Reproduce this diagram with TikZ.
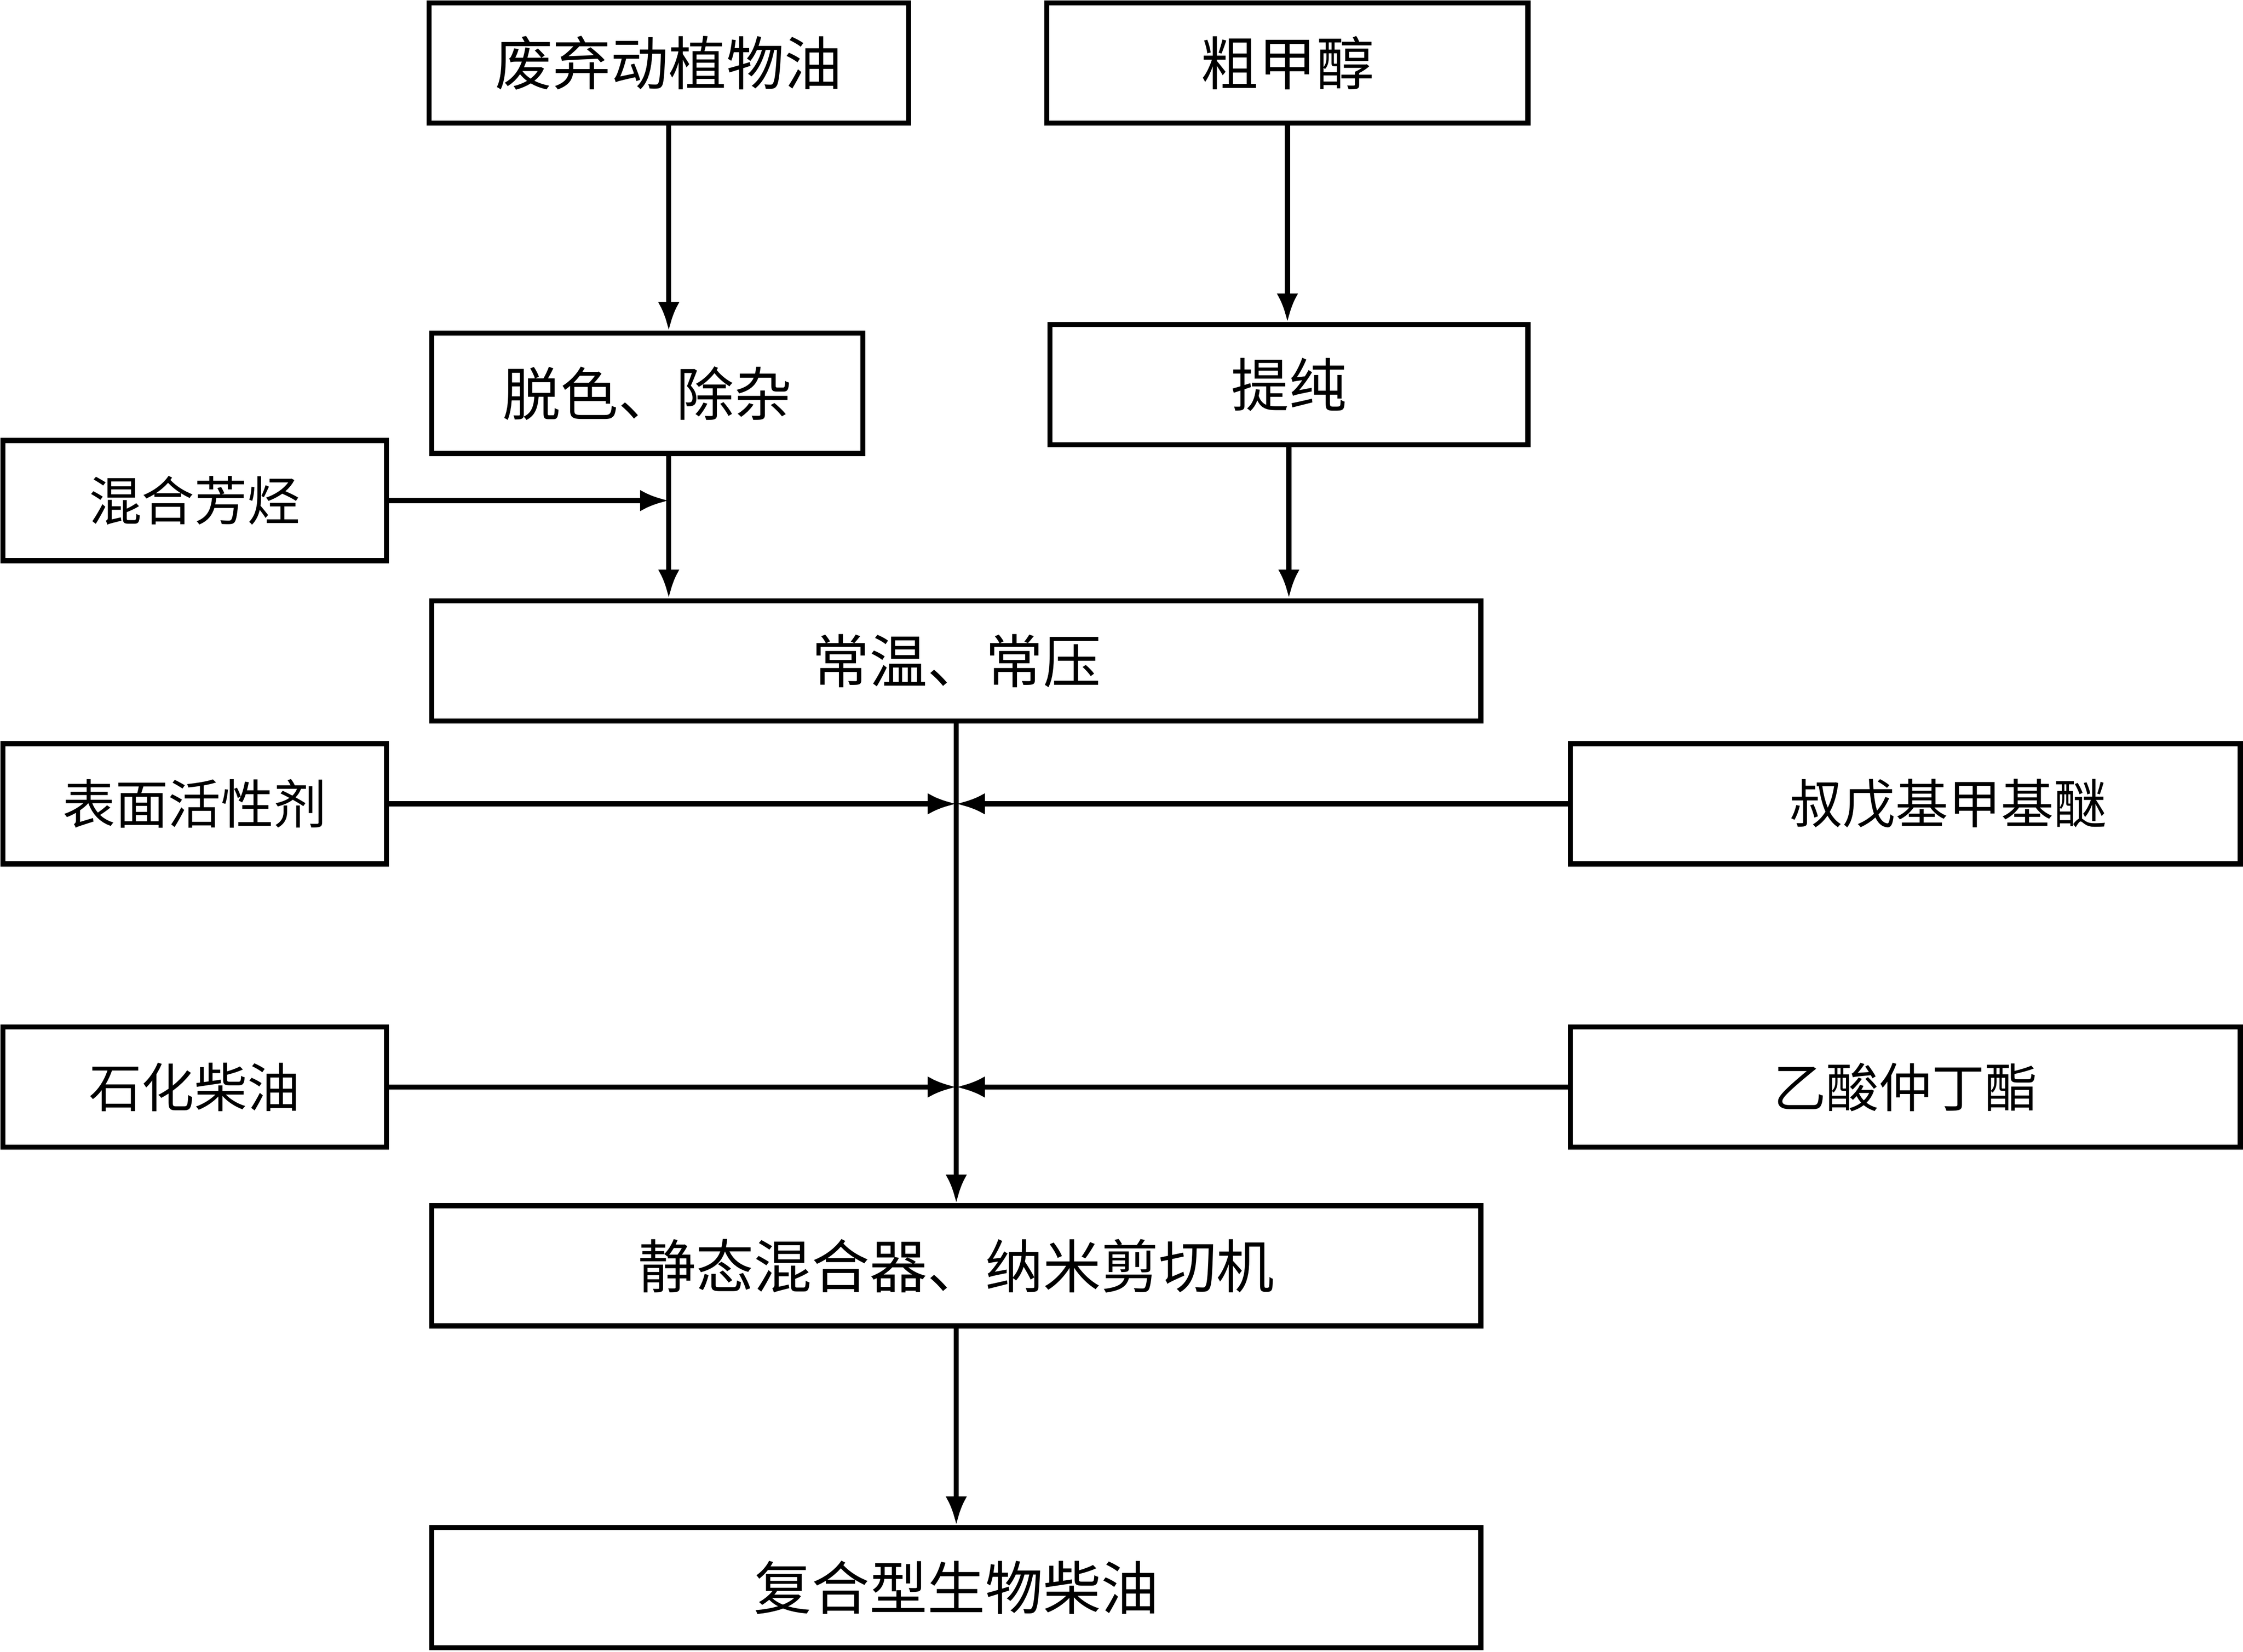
\documentclass[tikz,border=0pt]{standalone}
\usepackage{fontspec}
\newfontfamily\cjk{Noto Sans CJK SC}
\usetikzlibrary{arrows.meta}
\begin{document}
\begin{tikzpicture}[x=0.01cm,y=-0.01cm,
    box/.style={draw, line width=1pt, minimum height=0.84cm, inner sep=0pt,
        font=\cjk\fontsize{11.5}{12}\selectfont},
    side/.style={box, font=\cjk\fontsize{10.5}{12}\selectfont},
    arr/.style={line width=1pt, -{Latex[length=0.2cm,width=0.15cm]}}]
    \useasboundingbox (0,0) rectangle (1568,1155);

    \node[box, minimum width=3.35cm] (oil) at (467.5,44) {废弃动植物油};
    \node[box, minimum width=3.36cm] (cjc) at (900,44) {粗甲醇};
    \node[box, minimum width=3.01cm] (tuo) at (452.5,275) {脱色、除杂};
    \node[box, minimum width=3.34cm] (tic) at (901,269) {提纯};
    \node[side, minimum width=2.68cm] (hh) at (136,350) {混合芳烃};
    \node[box, minimum width=7.33cm] (cw) at (668.5,462) {常温、常压};
    \node[side, minimum width=2.68cm] (bm) at (136,562) {表面活性剂};
    \node[side, minimum width=4.68cm] (sw) at (1332,562) {\hspace{0.6cm}叔戊基甲基醚};
    \node[side, minimum width=2.68cm] (sh) at (136,760) {石化柴油};
    \node[side, minimum width=4.68cm] (ys) at (1332,760) {乙酸仲丁酯};
    \node[box, minimum width=7.33cm] (jt) at (668.5,885) {静态混合器、纳米剪切机};
    \node[box, minimum width=7.33cm] (fh) at (668.5,1110) {复合型生物柴油};

    % upper branches
    \draw[arr] (oil.south) -- (oil.south |- tuo.north);
    \draw[arr] (cjc.south) -- (cjc.south |- tic.north);
    \draw[arr] (oil.south |- tuo.south) -- (oil.south |- cw.north);
    \draw[arr] (hh.east) -- (hh.east -| oil.south);
    \draw[arr] (tic.south) -- (tic.south |- cw.north);

    % main line
    \draw[arr] (cw.south) -- (jt.north);
    \draw[arr] (bm.east) -- (bm.east -| cw.south);
    \draw[arr] (sw.west) -- (sw.west -| cw.south);
    \draw[arr] (sh.east) -- (sh.east -| cw.south);
    \draw[arr] (ys.west) -- (ys.west -| cw.south);
    \draw[arr] (jt.south) -- (fh.north);
\end{tikzpicture}
\end{document}
